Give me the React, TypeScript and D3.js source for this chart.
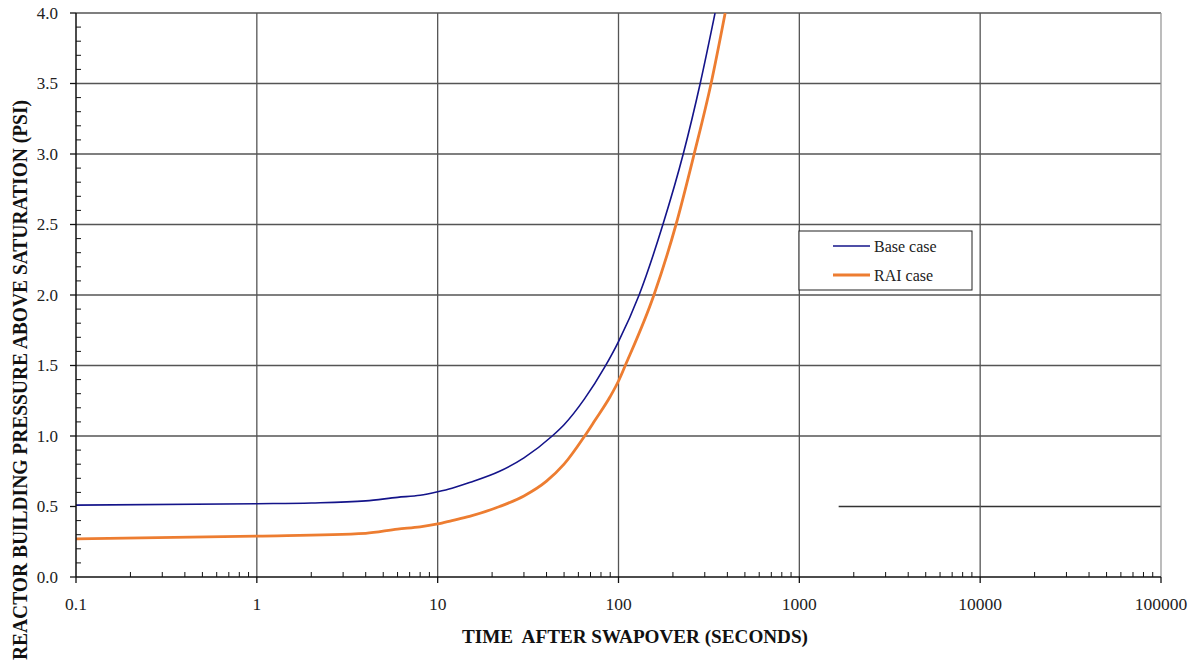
import React from "react";
import * as d3 from "d3";

const xTickValues = [0.1, 1, 10, 100, 1000, 10000, 100000];
const xTickLabels = ["0.1", "1", "10", "100", "1000", "10000", "100000"];
const yTickValues = [0, 0.5, 1, 1.5, 2, 2.5, 3, 3.5, 4];
const yTickLabels = ["0.0", "0.5", "1.0", "1.5", "2.0", "2.5", "3.0", "3.5", "4.0"];

const baseTime = [0.1, 1, 2, 4, 6, 8, 10, 12, 15, 22, 30, 43, 50, 65, 84, 100, 130, 176, 228, 283, 342];
const basePsi = [0.51, 0.52, 0.525, 0.54, 0.565, 0.58, 0.605, 0.63, 0.67, 0.75, 0.845, 1.0, 1.08, 1.265, 1.49, 1.67, 2.0, 2.5, 3.0, 3.5, 4.0];

const raiTime = [0.1, 1, 4, 6, 8, 10, 12, 15, 22, 30, 40, 50, 65, 74, 90, 100, 109, 157, 208, 262, 325, 389];
const raiPsi = [0.27, 0.29, 0.31, 0.34, 0.355, 0.376, 0.4, 0.43, 0.5, 0.575, 0.68, 0.8, 1.0, 1.11, 1.28, 1.39, 1.5, 2.0, 2.5, 3.0, 3.5, 4.0];

const seriesNames = ["Base case", "RAI case"];
const seriesColors = ["#14148a", "#ED7D31"];

const W = 1197, H = 660;
const L = 76, R = 1161, T = 13, B = 577;

export default function App() {
  const x = d3.scaleLog().domain([0.1, 100000]).range([L, R]);
  const y = d3.scaleLinear().domain([0, 4]).range([B, T]);
  const line = d3.line<[number, number]>().x(d => x(d[0])).y(d => y(d[1])).curve(d3.curveMonotoneX);
  const baseData = baseTime.map((t, i) => [t, basePsi[i]] as [number, number]);
  const raiData = raiTime.map((t, i) => [t, raiPsi[i]] as [number, number]);

  const minorX: number[] = [];
  for (let e = -1; e < 5; e++) for (let k = 2; k <= 9; k++) minorX.push(k * Math.pow(10, e));
  const minorY = d3.range(0, 41).map(i => i / 10).filter(v => Math.abs((v * 2) - Math.round(v * 2)) > 1e-6);

  const font = "'Liberation Serif', 'Times New Roman', 'DejaVu Serif', serif";
  const tStyle: React.CSSProperties = { fontFamily: font };
  const grid05Start = 1650;

  return (
    <svg width={W} height={H} style={{ position: "absolute", left: 0, top: 0, background: "#fff", fontFamily: font }}>
      <rect x={0} y={0} width={W} height={H} fill="#fff" />
      {yTickValues.filter(v => v > 0.6).map(v => (
        <line key={"hg" + v} x1={L} x2={R} y1={y(v)} y2={y(v)} stroke="#555" strokeWidth={1.3} />
      ))}
      <line x1={x(grid05Start)} x2={R} y1={y(0.5)} y2={y(0.5)} stroke="#333" strokeWidth={1.3} />
      {xTickValues.slice(1).map(v => (
        <line key={"vg" + v} x1={x(v)} x2={x(v)} y1={T} y2={B} stroke={v === 100000 ? "#999" : "#555"} strokeWidth={1.3} />
      ))}
      <defs>
        <clipPath id="plotclip"><rect x={L} y={T} width={R - L} height={B - T} /></clipPath>
      </defs>
      <g clipPath="url(#plotclip)">
        <path d={line(raiData) || ""} fill="none" stroke={seriesColors[1]} strokeWidth={2.8} />
        <path d={line(baseData) || ""} fill="none" stroke={seriesColors[0]} strokeWidth={1.6} />
      </g>
      <line x1={L} x2={L} y1={T} y2={B} stroke="#111" strokeWidth={1.5} />
      <line x1={L} x2={R} y1={B} y2={B} stroke="#111" strokeWidth={1.5} />
      {yTickValues.map(v => (
        <line key={"yt" + v} x1={L - 6} x2={L} y1={y(v)} y2={y(v)} stroke="#111" strokeWidth={1.3} />
      ))}
      {minorY.map(v => (
        <line key={"ym" + v} x1={L} x2={L + 5} y1={y(v)} y2={y(v)} stroke="#111" strokeWidth={1} />
      ))}
      {xTickValues.map(v => (
        <line key={"xt" + v} x1={x(v)} x2={x(v)} y1={B} y2={B + 6} stroke="#111" strokeWidth={1.3} />
      ))}
      {minorX.map(v => (
        <line key={"xm" + v} x1={x(v)} x2={x(v)} y1={B} y2={B - 5} stroke="#111" strokeWidth={1} />
      ))}
      {yTickValues.map((v, i) => (
        <text key={"yl" + v} x={L - 18} y={y(v)} dy="0.35em" textAnchor="end" fontSize={17} fill="#222" style={tStyle}>{yTickLabels[i]}</text>
      ))}
      {xTickValues.map((v, i) => (
        <text key={"xl" + v} x={x(v)} y={B + 33} textAnchor="middle" fontSize={17.5} fill="#222" style={tStyle}>{xTickLabels[i]}</text>
      ))}
      <text x={635} y={643} textAnchor="middle" fontSize={19} fontWeight="bold" fill="#111"
        textLength={346} lengthAdjust="spacingAndGlyphs" style={{ ...tStyle, whiteSpace: "pre" }}>{"TIME  AFTER SWAPOVER (SECONDS)"}</text>
      <text transform={`translate(27, 380) rotate(-90)`} textAnchor="middle" fontSize={21} fontWeight="bold" fill="#111"
        textLength={560} lengthAdjust="spacingAndGlyphs" style={tStyle}>REACTOR BUILDING PRESSURE ABOVE SATURATION (PSI)</text>
      <rect x={799} y={231} width={173} height={59} fill="#fff" stroke="#222" strokeWidth={1} />
      {seriesNames.map((n, i) => (
        <g key={n}>
          <line x1={833} x2={870} y1={246 + i * 29} y2={246 + i * 29} stroke={seriesColors[i]} strokeWidth={i === 0 ? 1.6 : 2.8} />
          <text x={874} y={246 + i * 29} dy="0.35em" fontSize={16} fill="#222" style={tStyle}>{n}</text>
        </g>
      ))}
    </svg>
  );
}
